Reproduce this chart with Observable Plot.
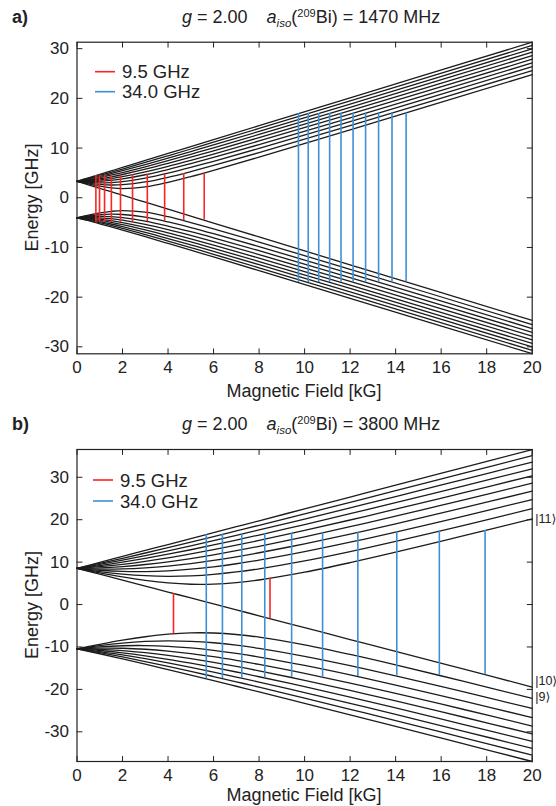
<!DOCTYPE html>
<html>
<head>
<meta charset="utf-8">
<script src="https://cdn.jsdelivr.net/npm/d3@7"></script>
<script src="https://cdn.jsdelivr.net/npm/@observablehq/plot@0.6"></script>
<style>
  html, body { margin: 0; padding: 0; background: #fff; }
  #page { position: relative; width: 556px; height: 806px; overflow: hidden;
          font-family: "Liberation Sans", Arial, Helvetica, sans-serif; color: #222; }
  #page > svg, #page > figure > svg { position: absolute; left: 0; }
  .panel { position: absolute; left: 0; }
  #overlay { position: absolute; left: 0; top: 0; pointer-events: none; }
</style>
</head>
<body>
<div id="page">
  <div class="panel" id="panelA" style="top:0px"></div>
  <div class="panel" id="panelB" style="top:400px"></div>
</div>
<script>
// ---------------- DATA ----------------
const xTicks = [0, 2, 4, 6, 8, 10, 12, 14, 16, 18, 20];
const yTicksA = [-30, -20, -10, 0, 10, 20, 30];
const yTicksB = [-30, -20, -10, 0, 10, 20, 30];

// Panel a: g = 2.00, a_iso = 1470 MHz  (energies in GHz, read at these fields in kG)
const fieldA = [0, 0.5, 1, 1.5, 2, 3, 4, 5, 6, 8, 12, 20];
const upperA = [
  [3.31, 2.61, 1.91, 1.21, 0.51, -0.89, -2.29, -3.69, -5.09, -7.89, -13.49, -24.69],
  [3.31, 2.78, 2.32, 1.99, 1.84, 2.17, 3.09, 4.25, 5.52, 8.18, 13.66, 24.78],
  [3.31, 2.94, 2.68, 2.57, 2.63, 3.18, 4.12, 5.26, 6.49, 9.09, 14.52, 25.59],
  [3.31, 3.09, 3.00, 3.06, 3.25, 3.97, 4.96, 6.11, 7.34, 9.93, 15.32, 26.37],
  [3.31, 3.23, 3.29, 3.48, 3.78, 4.63, 5.68, 6.86, 8.10, 10.70, 16.09, 27.13],
  [3.31, 3.37, 3.57, 3.86, 4.25, 5.21, 6.33, 7.54, 8.80, 11.42, 16.83, 27.87],
  [3.31, 3.51, 3.82, 4.22, 4.68, 5.74, 6.92, 8.16, 9.45, 12.10, 17.53, 28.58],
  [3.31, 3.64, 4.06, 4.54, 5.07, 6.23, 7.46, 8.75, 10.06, 12.74, 18.21, 29.29],
  [3.31, 3.77, 4.28, 4.85, 5.44, 6.68, 7.97, 9.29, 10.64, 13.35, 18.86, 29.97],
  [3.31, 3.89, 4.50, 5.13, 5.78, 7.10, 8.45, 9.81, 11.18, 13.94, 19.49, 30.64],
  [3.31, 4.01, 4.71, 5.41, 6.11, 7.51, 8.91, 10.31, 11.71, 14.50, 20.10, 31.30]
];
const lowerA = [
  [-4.04, -3.51, -3.06, -2.73, -2.58, -2.91, -3.82, -4.99, -6.25, -8.91, -14.40, -25.52],
  [-4.04, -3.67, -3.42, -3.31, -3.37, -3.92, -4.86, -5.99, -7.22, -9.83, -15.25, -26.32],
  [-4.04, -3.82, -3.74, -3.79, -3.99, -4.70, -5.70, -6.84, -8.07, -10.66, -16.06, -27.10],
  [-4.04, -3.97, -4.03, -4.22, -4.52, -5.36, -6.42, -7.59, -8.83, -11.43, -16.83, -27.86],
  [-4.04, -4.11, -4.30, -4.60, -4.99, -5.95, -7.06, -8.27, -9.53, -12.15, -17.56, -28.60],
  [-4.04, -4.24, -4.55, -4.95, -5.41, -6.48, -7.65, -8.90, -10.18, -12.83, -18.26, -29.32],
  [-4.04, -4.37, -4.79, -5.28, -5.81, -6.96, -8.20, -9.48, -10.79, -13.47, -18.94, -30.02],
  [-4.04, -4.50, -5.02, -5.58, -6.17, -7.41, -8.71, -10.03, -11.37, -14.09, -19.59, -30.71],
  [-4.04, -4.62, -5.24, -5.87, -6.52, -7.84, -9.19, -10.55, -11.92, -14.68, -20.23, -31.38]
];
const redFieldA  = [0.83, 0.99, 1.21, 1.51, 1.91, 2.44, 3.09, 3.85, 4.69, 5.59];
const redTopA    = [4.47, 4.49, 4.51, 4.55, 4.59, 4.65, 4.72, 4.80, 4.89, 4.99];
const redBottomA = [-5.03, -5.01, -4.99, -4.95, -4.91, -4.85, -4.78, -4.70, -4.61, -4.51];
const blueFieldA  = [9.73, 10.16, 10.62, 11.10, 11.60, 12.13, 12.68, 13.25, 13.84, 14.46];
const blueTopA    = [16.93, 16.94, 16.95, 16.97, 16.98, 17.00, 17.02, 17.03, 17.05, 17.07];
const blueBottomA = [-17.07, -17.06, -17.05, -17.03, -17.02, -17.00, -16.98, -16.97, -16.95, -16.93];

// Panel b: g = 2.00, a_iso = 3800 MHz
const fieldB = [0, 1, 2, 3, 4, 5, 6, 7, 8, 10, 12, 14, 17, 20];
const upperB = [
  [8.55, 7.15, 5.75, 4.35, 2.95, 1.55, 0.15, -1.25, -2.65, -5.45, -8.25, -11.04, -15.24, -19.44],
  [8.55, 7.47, 6.50, 5.69, 5.09, 4.78, 4.81, 5.16, 5.79, 7.62, 9.87, 12.33, 16.22, 20.22],
  [8.55, 7.78, 7.18, 6.80, 6.65, 6.76, 7.11, 7.68, 8.43, 10.30, 12.50, 14.89, 18.68, 22.60],
  [8.55, 8.08, 7.81, 7.77, 7.94, 8.33, 8.90, 9.62, 10.47, 12.46, 14.69, 17.09, 20.86, 24.76],
  [8.55, 8.37, 8.40, 8.64, 9.07, 9.66, 10.40, 11.26, 12.21, 14.31, 16.61, 19.04, 22.84, 26.75],
  [8.55, 8.65, 8.95, 9.44, 10.08, 10.85, 11.73, 12.70, 13.73, 15.97, 18.35, 20.83, 24.67, 28.61],
  [8.55, 8.93, 9.48, 10.18, 11.00, 11.93, 12.93, 14.00, 15.12, 17.47, 19.93, 22.47, 26.38, 30.36],
  [8.55, 9.19, 9.98, 10.87, 11.86, 12.92, 14.04, 15.20, 16.39, 18.86, 21.41, 24.01, 27.98, 32.01],
  [8.55, 9.45, 10.45, 11.53, 12.67, 13.85, 15.07, 16.31, 17.58, 20.16, 22.79, 25.46, 29.51, 33.59],
  [8.55, 9.70, 10.91, 12.15, 13.43, 14.72, 16.03, 17.36, 18.69, 21.39, 24.10, 26.84, 30.96, 35.10],
  [8.55, 9.95, 11.35, 12.75, 14.15, 15.55, 16.95, 18.35, 19.75, 22.55, 25.35, 28.14, 32.34, 36.54]
];
const lowerB = [
  [-10.45, -9.37, -8.40, -7.59, -6.99, -6.68, -6.71, -7.06, -7.69, -9.52, -11.77, -14.23, -18.12, -22.12],
  [-10.45, -9.68, -9.08, -8.70, -8.55, -8.66, -9.01, -9.58, -10.33, -12.20, -14.40, -16.79, -20.58, -24.50],
  [-10.45, -9.98, -9.71, -9.67, -9.84, -10.23, -10.80, -11.52, -12.37, -14.36, -16.59, -18.99, -22.76, -26.66],
  [-10.45, -10.27, -10.30, -10.54, -10.97, -11.56, -12.30, -13.16, -14.11, -16.21, -18.51, -20.94, -24.74, -28.65],
  [-10.45, -10.55, -10.85, -11.34, -11.98, -12.75, -13.63, -14.60, -15.63, -17.87, -20.25, -22.73, -26.57, -30.51],
  [-10.45, -10.83, -11.38, -12.08, -12.90, -13.83, -14.83, -15.90, -17.02, -19.37, -21.83, -24.37, -28.28, -32.26],
  [-10.45, -11.09, -11.88, -12.77, -13.76, -14.82, -15.94, -17.10, -18.29, -20.76, -23.31, -25.91, -29.88, -33.91],
  [-10.45, -11.35, -12.35, -13.43, -14.57, -15.75, -16.97, -18.21, -19.48, -22.06, -24.69, -27.36, -31.41, -35.49],
  [-10.45, -11.60, -12.81, -14.05, -15.33, -16.62, -17.93, -19.26, -20.59, -23.29, -26.00, -28.74, -32.86, -37.00]
];
const redFieldB  = [4.24, 8.48];
const redTopB    = [2.61, 6.18];
const redBottomB = [-6.89, -3.33];
const blueFieldB  = [5.68, 6.39, 7.24, 8.25, 9.43, 10.79, 12.34, 14.05, 15.92, 17.93];
const blueTopB    = [16.49, 16.55, 16.62, 16.70, 16.79, 16.89, 17.02, 17.15, 17.30, 17.45];
const blueBottomB = [-17.51, -17.45, -17.38, -17.31, -17.21, -17.11, -16.99, -16.85, -16.71, -16.55];

const stateLabels = ["|11\u27E9", "|10\u27E9", "|9\u27E9"];
const legendLabels = ["9.5 GHz", "34.0 GHz"];

// ---------------- STYLE ----------------
const FONT = '"Liberation Sans", Arial, Helvetica, sans-serif';
const INK = "#222";
const RED = "#fa2424";
const BLUE = "#3d8fd6";
const LINE = "#1c1c1c";

function levelRows(field, sets) {
  const out = [];
  sets.forEach((s, i) => s.forEach((v, j) => out.push({B: field[j], E: v, level: i})));
  return out;
}
function transRows(f, top, bot) {
  return f.map((b, i) => ({B: b, hi: top[i], lo: bot[i]}));
}
const tickShape = {draw(ctx, l) { ctx.moveTo(0, 0); ctx.lineTo(0, -l); }};
function boxTicks(xt, yt) {
  const o = {length: 5, anchor: "start", shape: tickShape, stroke: INK, strokeWidth: 1};
  return [
    Plot.vector(xt, {...o, x: d => d, frameAnchor: "bottom", rotate: 0}),
    Plot.vector(xt, {...o, x: d => d, frameAnchor: "top", rotate: 180}),
    Plot.vector(yt, {...o, y: d => d, frameAnchor: "left", rotate: 90}),
    Plot.vector(yt, {...o, y: d => d, frameAnchor: "right", rotate: -90})
  ];
}

function panel({height, mt, mb, ydom, yt, field, upper, lower, red, blue, extra = []}) {
  return Plot.plot({
    width: 556, height,
    marginLeft: 76.5, marginRight: 24.3, marginTop: mt, marginBottom: mb,
    x: {domain: [0, 20]},
    y: {domain: ydom},
    style: {fontFamily: FONT, color: INK, background: "transparent", overflow: "visible"},
    marks: [
      Plot.line(levelRows(field, upper.concat(lower)), {x: "B", y: "E", z: "level", stroke: LINE, strokeWidth: 1.3, curve: "catmull-rom"}),
      Plot.ruleX(red, {x: "B", y1: "lo", y2: "hi", stroke: RED, strokeWidth: 1.6}),
      Plot.ruleX(blue, {x: "B", y1: "lo", y2: "hi", stroke: BLUE, strokeWidth: 1.6}),
      Plot.frame({stroke: INK, strokeWidth: 1.2}),
      ...boxTicks(xTicks, yt),
      Plot.axisX(xTicks, {tickSize: 0, tickPadding: 7, tickFormat: d => String(d), label: null, fontSize: 17}),
      Plot.axisY(yt, {tickSize: 0, tickPadding: 8, tickFormat: d => String(d), label: null, fontSize: 17}),
      ...extra
    ]
  });
}

const plotA = panel({
  height: 400, mt: 41.7, mb: 46.7, ydom: [-31.4, 31.3], yt: yTicksA,
  field: fieldA, upper: upperA, lower: lowerA,
  red: transRows(redFieldA, redTopA, redBottomA),
  blue: transRows(blueFieldA, blueTopA, blueBottomA)
});
const endB = fieldB.length - 1;
const labelData = [
  {t: stateLabels[0], B: fieldB[endB], E: upperB[1][endB], dy: 0},
  {t: stateLabels[1], B: fieldB[endB], E: upperB[0][endB], dy: -6},
  {t: stateLabels[2], B: fieldB[endB], E: lowerB[0][endB], dy: -1}
];
const plotB = panel({
  height: 406, mt: 49, mb: 45, ydom: [-37.0, 36.55], yt: yTicksB,
  field: fieldB, upper: upperB, lower: lowerB,
  red: transRows(redFieldB, redTopB, redBottomB),
  blue: transRows(blueFieldB, blueTopB, blueBottomB),
  extra: labelData.map(d => Plot.text([d], {x: "B", y: "E", text: "t", dx: 3, dy: d.dy, textAnchor: "start", fontSize: 12.5, fill: INK, fontFamily: FONT + ', "DejaVu Sans"'}))
});
document.getElementById("panelA").appendChild(plotA);
document.getElementById("panelB").appendChild(plotB);

// ---------------- TITLES, AXIS LABELS, LEGENDS ----------------
const svgNS = "http://www.w3.org/2000/svg";
function title(y, aiso) {
  return `<text y="${y}" font-size="18" fill="${INK}"><tspan x="182" font-style="italic">g</tspan><tspan> = 2.00</tspan><tspan dx="19" font-style="italic">a</tspan><tspan font-size="11.5" font-style="italic" dy="4">iso</tspan><tspan dy="-4">(</tspan><tspan font-size="11" dy="-6.5">209</tspan><tspan dy="6.5">Bi) = ${aiso} MHz</tspan></text>`;
}
function legend(yRed, yBlue, x0) {
  return `<line x1="${x0}" x2="${x0 + 20}" y1="${yRed}" y2="${yRed}" stroke="${RED}" stroke-width="1.6"/>
  <line x1="${x0}" x2="${x0 + 20}" y1="${yBlue}" y2="${yBlue}" stroke="${BLUE}" stroke-width="1.6"/>
  <text x="${x0 + 27}" y="${yRed + 6.5}" font-size="18.5" fill="${INK}">${legendLabels[0]}</text>
  <text x="${x0 + 27}" y="${yBlue + 6.5}" font-size="18.5" fill="${INK}">${legendLabels[1]}</text>`;
}
const overlay = `<svg id="overlay" xmlns="${svgNS}" width="556" height="806" style="font-family:${FONT.replace(/"/g, "'")}">
  <text x="12" y="23" font-size="18" font-weight="bold" fill="${INK}">a)</text>
  <text x="12" y="430" font-size="18" font-weight="bold" fill="${INK}">b)</text>
  ${title(23, 1470)}
  ${title(430, 3800)}
  <text x="304" y="397" font-size="18" text-anchor="middle" fill="${INK}">Magnetic Field [kG]</text>
  <text x="304" y="801" font-size="18" text-anchor="middle" fill="${INK}">Magnetic Field [kG]</text>
  <text transform="translate(38,197.5) rotate(-90)" font-size="18" text-anchor="middle" fill="${INK}">Energy [GHz]</text>
  <text transform="translate(38,605) rotate(-90)" font-size="18" text-anchor="middle" fill="${INK}">Energy [GHz]</text>
  ${legend(71.7, 91.7, 95)}
  ${legend(480, 501, 93)}
</svg>`;
document.getElementById("page").insertAdjacentHTML("beforeend", overlay);
</script>
</body>
</html>
